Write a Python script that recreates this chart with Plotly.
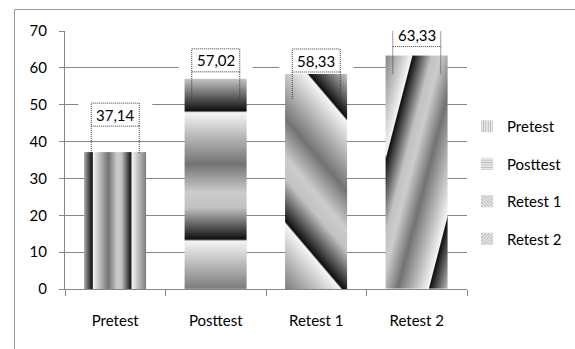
import numpy as np
import plotly.graph_objects as go

# ---- data -------------------------------------------------------------
categories = ["Pretest", "Posttest", "Retest 1", "Retest 2"]
scores = [37.14, 57.02, 58.33, 63.33]
y_ticks = [0, 10, 20, 30, 40, 50, 60, 70]

# ---- layout / style ---------------------------------------------------
W, H = 575, 349
M_L, M_R, M_T, M_B = 65, 108, 31, 60
PLOT_W = W - M_L - M_R
PLOT_H = H - M_T - M_B
Y_MAX = 70
BAR_W = 0.62
GRID = "#868686"
TEXT = "#000000"
FONT = "Lato"
FS = 15

PX_PER_X = PLOT_W / len(categories)
PX_PER_Y = PLOT_H / Y_MAX

# grey ramp repeated across each bar's band pattern (position in band -> grey level)
RAMP_POS = [0.0, 0.40, 0.62, 0.74, 0.985, 1.0]
RAMP_VAL = [0.96, 0.45, 0.80, 0.76, 0.06, 0.96]

# band direction (a, b), phase and period (pixels) for each bar's fill
BANDS = [
    (-1.0, 0.0, -9.0, 39.0),      # vertical stripes
    (0.0, 1.0, 176.5, 128.5),     # horizontal stripes
    (1.17, 1.0, 240.5, 175.0),    # down-right diagonal
    (3.85, -1.0, 163.4, 297.0),   # steep up-right diagonal
]
LEGEND_PATTERNS = ["|", "-", "\\", "/"]

# label box lift above the bar top (pixels)
LABEL_LIFT = [26, 7, 2, 9]
BOX_HALF_W = 24
BOX_H = 23
HALO = 13
DOT_DROP = 50


def ramp(s):
    return np.interp(np.mod(s, 1.0), RAMP_POS, RAMP_VAL)


def paper_x(px):
    return (px - M_L) / PLOT_W


def paper_y(py):
    return (M_T + PLOT_H - py) / PLOT_H


fig = go.Figure()

# gradient-banded fill of each bar
for i, v in enumerate(scores):
    nx = int(round(BAR_W * PX_PER_X))
    ny = max(1, int(round(v * PX_PER_Y)))
    left = i - BAR_W / 2
    xs = left + (np.arange(nx) + 0.5) * BAR_W / nx
    ys = (np.arange(ny) + 0.5) * v / ny
    lx = (xs - left) * PX_PER_X
    ly = ys * PX_PER_Y
    LX, LY = np.meshgrid(lx, ly)
    a, b, off, per = BANDS[i]
    z = ramp((off - (a * LX + b * LY)) / per)
    fig.add_trace(go.Heatmap(
        x=xs, y=ys, z=z, zmin=0, zmax=1,
        colorscale=[[0, "#000000"], [1, "#ffffff"]],
        showscale=False, hoverinfo="skip", showlegend=False,
    ))

# the bars themselves (values, hover)
fig.add_trace(go.Bar(
    x=list(range(len(categories))), y=scores, width=BAR_W,
    marker=dict(color="rgba(0,0,0,0)", line=dict(width=0)),
    customdata=categories, hovertemplate="%{customdata}: %{y}<extra></extra>",
    showlegend=False,
))

# legend entries
for cat, pat in zip(categories, LEGEND_PATTERNS):
    fig.add_trace(go.Bar(
        x=[None], y=[None], name=cat, legendgroup=cat,
        marker=dict(color="#f2f2f2", line=dict(width=0),
                    pattern=dict(shape=pat, fgcolor="#7a7a7a", size=3, solidity=0.45)),
    ))

shapes = []
annotations = []
for i, v in enumerate(scores):
    lift = LABEL_LIFT[i]
    common = dict(xref="x", yref="y", xsizemode="pixel", ysizemode="pixel",
                  xanchor=i, yanchor=v)
    # white backing behind the value label (hides grid lines)
    shapes.append(dict(type="rect", **common,
                       x0=-BOX_HALF_W - HALO, x1=BOX_HALF_W + HALO,
                       y0=lift - 2, y1=lift + BOX_H + 3,
                       fillcolor="white", line=dict(width=0), layer="between"))
    # dotted label frame
    dot = dict(color="#3a3a3a", width=1, dash="1px,1px")
    shapes.append(dict(type="rect", **common,
                       x0=-BOX_HALF_W, x1=BOX_HALF_W, y0=lift, y1=lift + BOX_H,
                       line=dot, layer="above"))
    for sx in (-BOX_HALF_W, BOX_HALF_W):
        shapes.append(dict(type="line", **common,
                           x0=sx, x1=sx, y0=lift + BOX_H - DOT_DROP, y1=lift,
                           line=dot, layer="above"))
    annotations.append(dict(
        x=i, y=v, xref="x", yref="y", yanchor="middle",
        yshift=lift + BOX_H / 2, showarrow=False,
        text=f"{v:.2f}".replace(".", ","),
        font=dict(family=FONT, size=FS, color=TEXT),
    ))

# chart frame (left and top edges)
frame = dict(type="line", xref="paper", yref="paper",
             line=dict(color="#9a9a9a", width=1), layer="above")
shapes.append(dict(frame, x0=paper_x(14.5), x1=paper_x(14.5), y0=paper_y(9.5), y1=paper_y(H)))
shapes.append(dict(frame, x0=paper_x(14.5), x1=paper_x(W), y0=paper_y(9.5), y1=paper_y(9.5)))

fig.update_layout(
    width=W, height=H,
    margin=dict(l=M_L, r=M_R, t=M_T, b=M_B, pad=0, autoexpand=False),
    paper_bgcolor="white", plot_bgcolor="white",
    barmode="overlay",
    font=dict(family=FONT, size=FS, color=TEXT),
    shapes=shapes, annotations=annotations,
    showlegend=True,
    legend=dict(x=1.0, xanchor="left", y=paper_y(110), yanchor="top",
                tracegroupgap=15, font=dict(family=FONT, size=FS, color=TEXT),
                bgcolor="rgba(0,0,0,0)", itemclick=False),
    xaxis=dict(
        range=[-0.5, len(categories) - 0.5],
        tickmode="array", tickvals=list(range(len(categories))), ticktext=categories,
        ticks="", showgrid=False, zeroline=False,
        showline=True, linecolor=GRID, linewidth=1,
        ticklabelstandoff=18,
        minor=dict(tickmode="array",
                   tickvals=[k - 0.5 for k in range(len(categories) + 1)],
                   ticks="outside", ticklen=6, tickcolor=GRID, tickwidth=1, showgrid=False),
    ),
    yaxis=dict(
        range=[0, Y_MAX], tickmode="array", tickvals=y_ticks,
        ticks="outside", ticklen=5, tickcolor=GRID, tickwidth=1,
        showgrid=True, gridcolor=GRID, gridwidth=1, zeroline=False,
        showline=True, linecolor=GRID, linewidth=1,
        ticklabelstandoff=9,
    ),
)

fig.write_html("out.html")
